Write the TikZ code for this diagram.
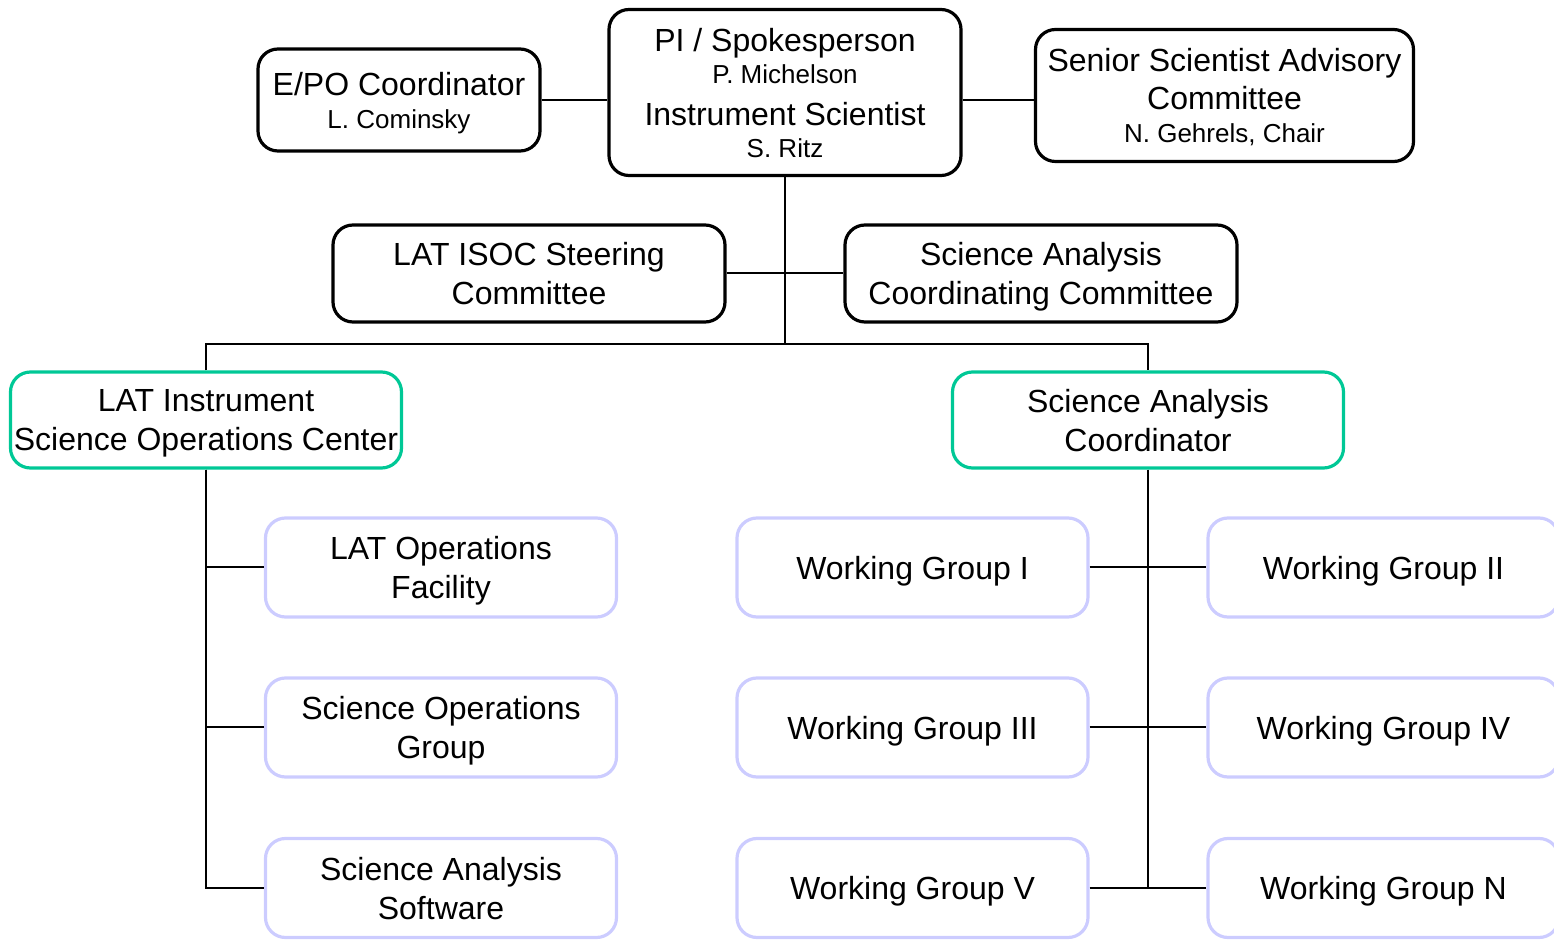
\documentclass[tikz,border=0pt]{standalone}
\usepackage{fontspec}
\setmainfont{Liberation Sans}
\definecolor{hubgreen}{RGB}{0,200,150}
\definecolor{teamblue}{RGB}{204,204,255}
\newcommand{\subline}[1]{{\fontsize{13}{15}\selectfont #1}}

\begin{document}
\begin{tikzpicture}[x=0.5pt,y=-0.5pt]
		\tikzset{box/.style = {draw, rounded corners=10pt, line width=1.6pt, align=center, inner sep=0pt, text depth=0pt, font=\fontsize{16}{19.5}\selectfont}}
		\tikzset{board/.style = {box, draw=black}}
		\tikzset{hub/.style = {box, draw=hubgreen, minimum width=195.5pt, minimum height=48pt}}
		\tikzset{team/.style = {box, draw=teamblue, minimum width=175.5pt, minimum height=49.5pt}}
		\tikzset{edge/.style = {line width=1pt}}

		\useasboundingbox (0,0) rectangle (1554,940);

		\node[board, minimum width=141pt, minimum height=51pt] (EPO) at (399,100) {E/PO Coordinator\\[-3pt]\subline{L. Cominsky}};
		\node[board, minimum width=176pt, minimum height=83pt] (PI) at (785,92.5) {PI / Spokesperson\\[-3.5pt]\subline{P. Michelson}\\[1.5pt]Instrument Scientist\\[-3.5pt]\subline{S. Ritz}};
		\node[board, minimum width=189pt, minimum height=66pt] (SSAC) at (1224.5,95.5) {Senior Scientist Advisory\\[-0.5pt]Committee\\[-3pt]\subline{N. Gehrels, Chair}};
		\node[board, minimum width=196pt, minimum height=48.5pt] (ISC) at (529,273.5) {LAT ISOC Steering\\Committee};
		\node[board, minimum width=196pt, minimum height=48.5pt] (SACC) at (1041,273.5) {Science Analysis\\Coordinating Committee};

		\node[hub] (LISOC) at (206,420) {LAT Instrument\\Science Operations Center};
		\node[hub] (SAC) at (1148,420) {Science Analysis\\Coordinator};

		\node[team] (LOF) at (441,567.5) {LAT Operations\\Facility};
		\node[team] (SOG) at (441,727.5) {Science Operations\\Group};
		\node[team] (SAS) at (441,888) {Science Analysis\\Software};

		\node[team] (WG_1) at (912.5,567.5) {Working Group I};
		\node[team] (WG_3) at (912.5,727.5) {Working Group III};
		\node[team] (WG_5) at (912.5,888) {Working Group V};
		\node[team] (WG_2) at (1383.5,567.5) {Working Group II};
		\node[team] (WG_4) at (1383.5,727.5) {Working Group IV};
		\node[team] (WG_N) at (1383.5,888) {Working Group N};

		\coordinate (bus) at (785,344);

		\draw[edge] (EPO.east |- 0,100) -- (PI.west |- 0,100);
		\draw[edge] (PI.east |- 0,100) -- (SSAC.west |- 0,100);
		\draw[edge] (PI.south) -- (bus);
		\draw[edge] (ISC.east) -- (SACC.west);
		\draw[edge] (LISOC.north) |- (bus) -| (SAC.north);

		\draw[edge] (LISOC.south) |- (SAS.west);
		\draw[edge] (LISOC.south) |- (LOF.west);
		\draw[edge] (LISOC.south) |- (SOG.west);

		\draw[edge] (SAC.south) -- (SAC.south |- WG_N.west);
		\draw[edge] (WG_1.east) -- (WG_2.west);
		\draw[edge] (WG_3.east) -- (WG_4.west);
		\draw[edge] (WG_5.east) -- (WG_N.west);
	\end{tikzpicture}
\end{document}
